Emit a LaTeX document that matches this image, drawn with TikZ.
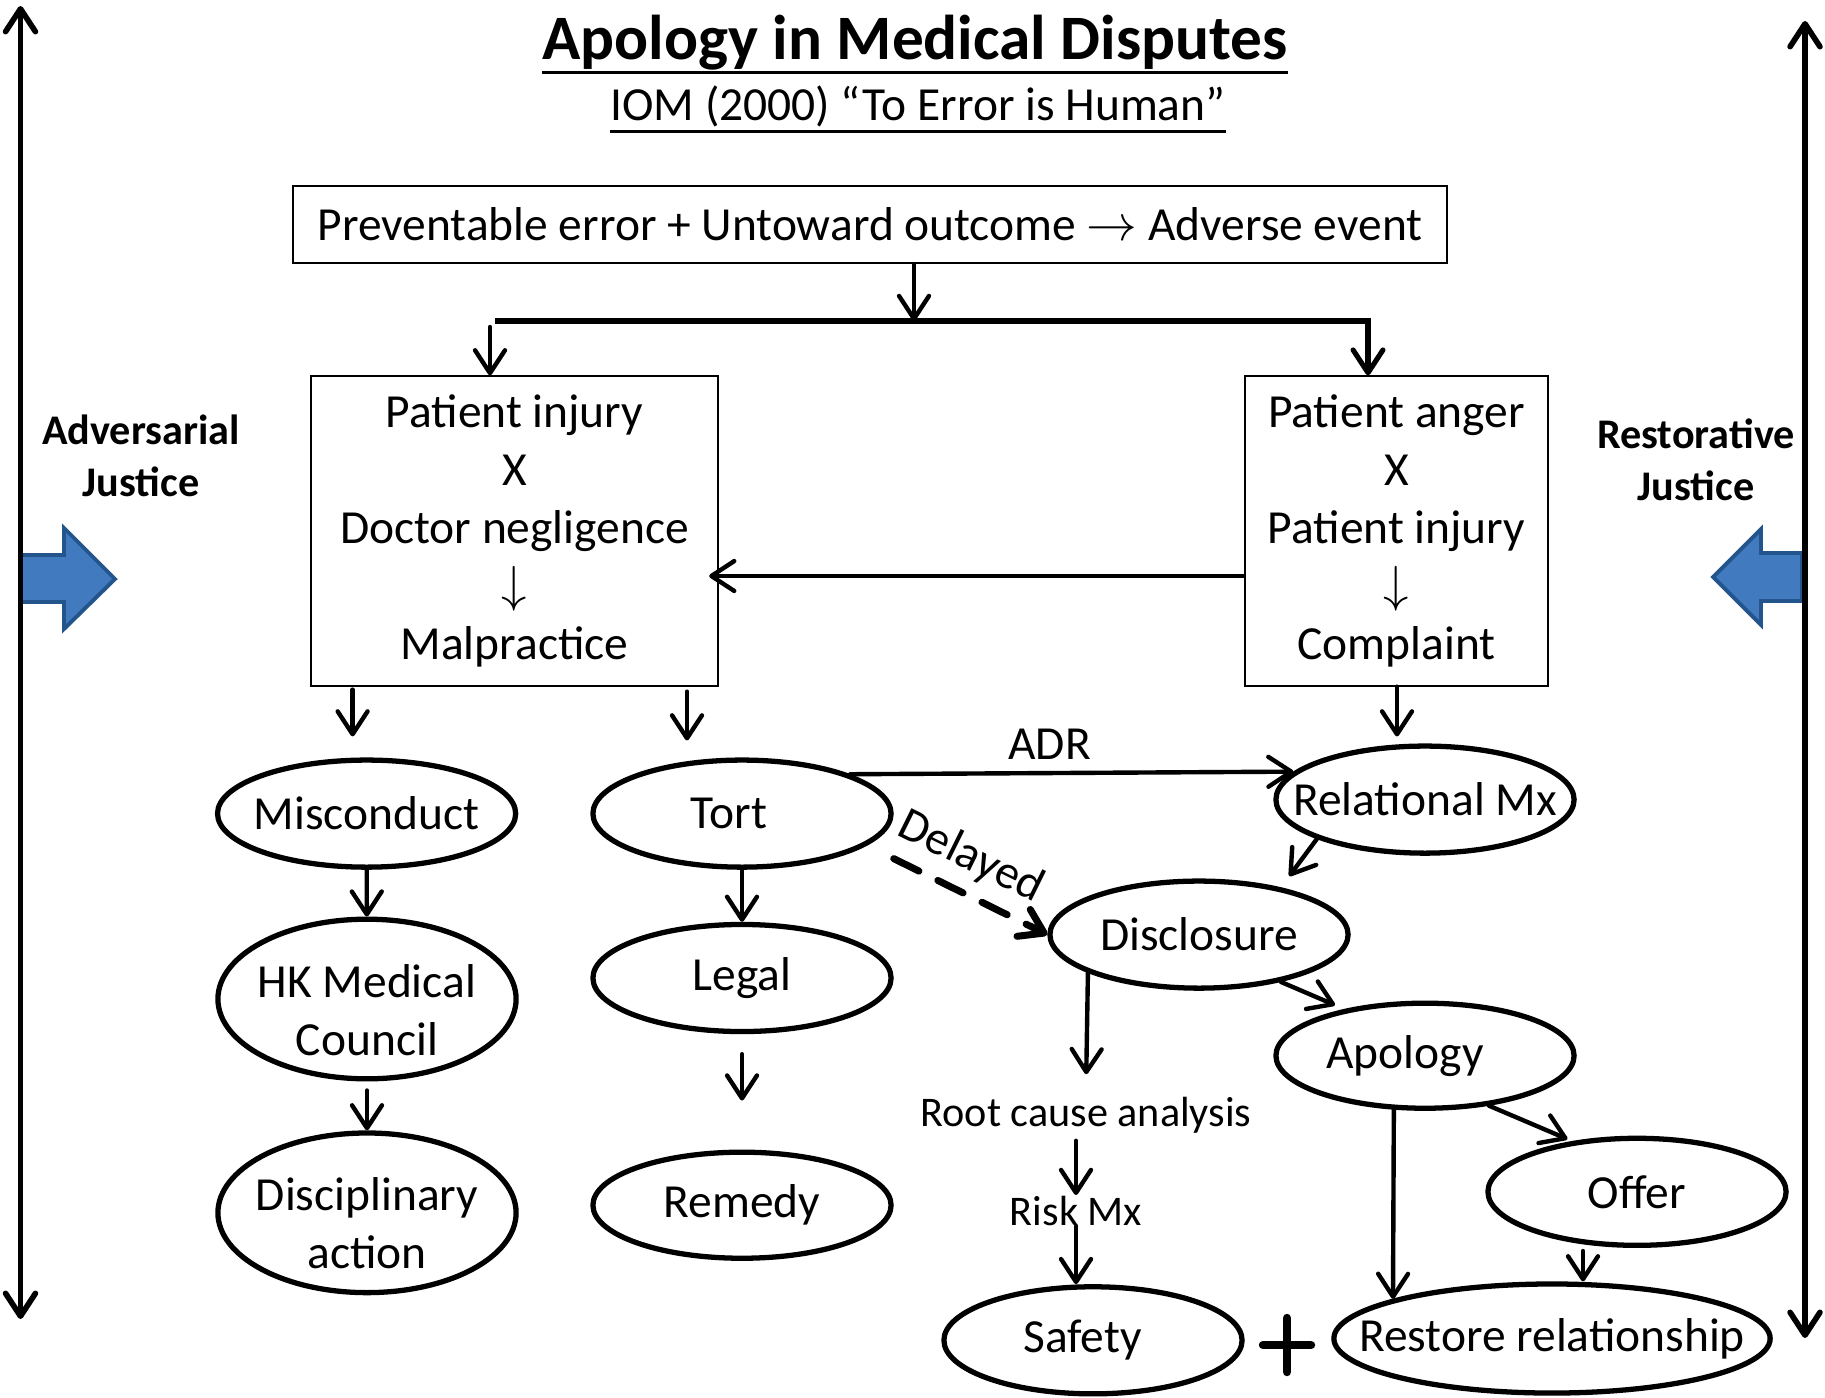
\documentclass[tikz,border=0pt]{standalone}
\usepackage{fontspec}
\setmainfont{Carlito}
\usepackage{tikz}
\usetikzlibrary{arrows.meta, shapes.geometric, calc, positioning}
\definecolor{shiftblue}{RGB}{65,122,190}
\definecolor{shiftedge}{RGB}{35,85,140}
\newcommand{\bodysize}{\fontsize{13.5}{16.5}\selectfont}
\newcommand{\smallsize}{\fontsize{12}{14.5}\selectfont}
\newcommand{\lowtext}{\rule{0pt}{15.5pt}}
\tikzset{
	ovaltext/.style={ellipse, draw, line width=1.5pt, minimum width=2.98cm, minimum height=1.07cm, inner xsep=-0.45cm, inner ysep=0pt, align=center, font=\bodysize}
}
\tikzset{
	framebox/.style={draw, line width=0.6pt, align=center, font=\bodysize, inner sep=0pt}
}
\tikzset{
	flowarrow/.style={-{Straight Barb[length=6.5pt,width=8.5pt,round]}, line width=1.25pt, line cap=round},
	botharrow/.style={{Straight Barb[length=6.5pt,width=8.5pt,round]}-{Straight Barb[length=6.5pt,width=8.5pt,round]}, line width=1.6pt},
	sidetext/.style={font=\fontsize{12}{14.9}\selectfont\bfseries, align=center, inner sep=0pt},
	shiftarrow/.style={fill=shiftblue, draw=shiftedge, line width=1.1pt, line join=miter}
}

\begin{document}
\begin{tikzpicture}[x=0.01cm, y=-0.01cm]
      \useasboundingbox (0,0) rectangle (1825,1397);
      \draw[shiftarrow] (21,555) -- (64,555) -- (64,528) -- (115,579) -- (64,629) -- (64,602) -- (21,602) -- cycle;
      \draw[shiftarrow] (1802,553) -- (1761,553) -- (1761,529) -- (1713,577) -- (1761,625) -- (1761,601) -- (1802,601) -- cycle;
      \coordinate (advtop) at (20.5,6);
      \coordinate (advbot) at (20.5,1319);
      \coordinate (restop) at (1805,21);
      \coordinate (resbot) at (1805,1338);
      \draw[botharrow] (advbot) -- (advtop);
      \draw[botharrow] (restop) -- (resbot);
      \node[sidetext] (advjust) at (141,456) {Adversarial\\Justice};
      \node[sidetext] (resjust) at (1696,460) {Restorative\\Justice};

      \node[anchor=base, inner sep=0pt, font=\fontsize{18}{22}\selectfont\bfseries] (title) at (915,60) {Apology in Medical Disputes};
      \draw[line width=1.1pt] ($(title.base west)+(0,12.5)$) -- ($(title.base east)+(0,12.5)$);
      \node[anchor=base, inner sep=0pt, font=\bodysize] (subtitle) at (918,121) {IOM (2000) “To Error is Human”};
      \draw[line width=0.7pt] ($(subtitle.base west)+(0,10.5)$) -- ($(subtitle.base east)+(0,10.5)$);

      \node[framebox, minimum width=11.54cm, minimum height=0.77cm] (event) at (870,224.5) {Preventable error + Untoward outcome $\rightarrow$ Adverse event};
      \node[framebox, minimum width=4.07cm, minimum height=3.09cm] (injury) at (514.5,531) {Patient injury\\X\\Doctor negligence\\$\downarrow$\\Malpractice};
      \node[framebox, minimum width=3.03cm, minimum height=3.09cm] (anger) at (1396.5,531) {Patient anger\\X\\Patient injury\\$\downarrow$\\Complaint};

      \node[ovaltext] (misc) at (366.6,813.6) {Misconduct};
      \node[ovaltext] (tort) at (742,813.6) {Tort\hspace*{0.26cm}};
      \node[ovaltext] (rel) at (1425,799.6) {Relational Mx};
      \node[ovaltext, minimum height=1.48cm] (hkmc) at (367,999) {\lowtext HK Medical\\Council};
      \node[ovaltext] (legal) at (742,978) {Legal};
      \node[ovaltext] (discl) at (1199,934.6) {Disclosure};
      \node[ovaltext, minimum height=1.05cm] (apol) at (1425,1055.7) {Apology\hspace*{0.4cm}};
      \node[ovaltext, minimum height=1.51cm] (disc) at (367,1212.8) {\lowtext Disciplinary\\action};
      \node[ovaltext, minimum height=1.06cm] (remedy) at (742,1205.2) {Remedy};
      \node[ovaltext] (offer) at (1637,1191.8) {Offer};
      \node[ovaltext] (safety) at (1093,1340.3) {Safety\hspace*{0.21cm}};
      \node[ovaltext, minimum width=4.36cm, minimum height=1.09cm] (restore) at (1552,1338.5) {Restore relationship};
      \node[font=\smallsize, inner sep=2pt] (rca) at (1086,1115) {Root cause analysis};
      \node[font=\smallsize, inner sep=0pt] (risk) at (1076,1210.5) {Risk Mx};

      \coordinate (splitL) at (495,321);
      \coordinate (splitR) at (1368,321);
      \draw[flowarrow] ($(event.south)+(44,0)$) coordinate (drop) -- (drop |- splitL);
      \draw[flowarrow, line width=1.45pt, line cap=butt] (splitL) -- (splitR) -- (splitR |- anger.north);
      \draw[flowarrow] ($(splitL)+(-5,6)$) -- ($(splitL |- injury.north)+(-5,0)$);
      \draw[flowarrow] ($(anger.west)+(0,45)$) -- ($(injury.east)+(-10,45)$);

      \draw[flowarrow] ($(injury.south -| misc.north)+(-14,3)$) -- ($(misc.north)+(-14,-21)$);
      \draw[flowarrow] ($(injury.south -| tort.north)+(-55,5)$) -- ($(tort.north)+(-55,-17)$);
      \draw[flowarrow] ($(anger.south -| rel.north)+(-28,0)$) -- ($(rel.north)+(-28,-7)$);

      \draw[flowarrow] (misc) -- (hkmc);
      \draw[flowarrow, shorten <=0.09cm] (hkmc) -- (disc);
      \draw[flowarrow] (tort) -- (legal);
      \draw[flowarrow, shorten <=0.2cm, shorten >=0.49cm] (legal) -- (remedy);

      \draw[flowarrow] (tort.20) -- node[above, pos=0.45, font=\bodysize] (adr) {ADR} (rel.168);
      \draw[flowarrow, line width=2pt, dash pattern=on 8pt off 6pt] ($(tort.east)+(0,45)$) -- node[sloped, above, pos=0.4, font=\bodysize] (delay) {Delayed} (discl.west);
      \draw[flowarrow, shorten >=0.14cm] (rel.200) -- (discl.30);
      \draw[flowarrow, shorten >=0.1cm] (discl.-30) -- (apol.150);
      \draw[flowarrow, shorten >=0.15cm] (discl.199) -- (rca.north);
      \draw[flowarrow] (rca.south -| risk.north) -- (risk.north);
      \draw[flowarrow] (risk.south) -- (risk.south |- safety.north);
      \draw[flowarrow] (apol.240) -- (restore.166);
      \draw[flowarrow, shorten >=0.05cm] (apol.-38) -- (offer.142);
      \draw[flowarrow] ($(offer.south)+(-54,3)$) -- ($(restore.north)+(31,0)$);

      \coordinate (plus) at (1287,1345);
      \draw[line width=2.4pt, line cap=round] ($(plus)+(-24,0)$) -- ($(plus)+(24,0)$) ($(plus)+(0,-27)$) -- ($(plus)+(0,27)$);
\end{tikzpicture}
\end{document}
